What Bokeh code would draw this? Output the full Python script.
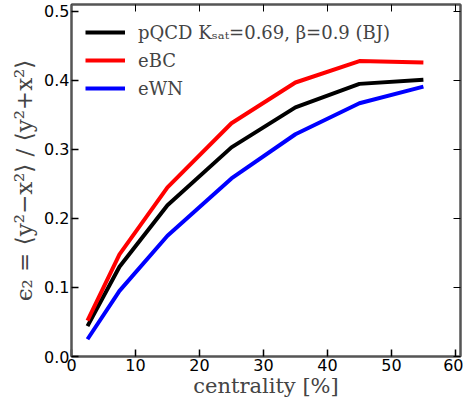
from bokeh.plotting import figure
from bokeh.models import Range1d, LinearAxis, FixedTicker, Legend, LegendItem, NumeralTickFormatter
from bokeh.embed import file_html
from bokeh.resources import INLINE

centrality = [2.5, 7.5, 15, 25, 35, 45, 55]
pqcd = [0.044, 0.130, 0.219, 0.303, 0.361, 0.395, 0.401]
ebc = [0.052, 0.148, 0.245, 0.338, 0.397, 0.428, 0.426]
ewn = [0.025, 0.095, 0.175, 0.258, 0.322, 0.367, 0.391]
x_ticks = [0, 10, 20, 30, 40, 50, 60]
y_ticks = [0.0, 0.1, 0.2, 0.3, 0.4, 0.5]
labels = ["pQCD K\u209b\u2090\u209c=0.69, \u03b2=0.9 (BJ)", "eBC", "eWN"]

p = figure(width=463, height=400, output_backend="svg", toolbar_location=None,
           x_range=Range1d(0, 60.8), y_range=Range1d(0, 0.51),
           min_border_left=71, min_border_right=0, min_border_top=0, min_border_bottom=0)
p.grid.visible = False
p.outline_line_color = "#555555"
p.outline_line_width = 2

serif = "DejaVu Serif"
sans = "DejaVu Sans"

for ax in (p.xaxis[0], p.yaxis[0]):
    ax.major_tick_in = 7
    ax.major_tick_out = 0
    ax.minor_tick_line_color = None
    ax.axis_line_color = "#555555"
    ax.axis_line_width = 2
    ax.major_tick_line_width = 1.5
    ax.major_label_text_font = sans
    ax.major_label_text_font_size = "16px"
    ax.major_label_text_color = "black"
    ax.axis_label_text_font = serif
    ax.axis_label_text_font_style = "normal"
    ax.axis_label_text_font_size = "21px"

p.yaxis[0].axis_label_text_font_size = "23px"
p.xaxis[0].ticker = FixedTicker(ticks=x_ticks)
p.yaxis[0].ticker = FixedTicker(ticks=y_ticks)
p.yaxis[0].formatter = NumeralTickFormatter(format="0.0")
p.xaxis[0].axis_label = "centrality [%]"
p.yaxis[0].axis_label = "\u03f5\u2082 = \u27e8y\u00b2\u2212x\u00b2\u27e9 / \u27e8y\u00b2+x\u00b2\u27e9"
p.xaxis[0].major_label_standoff = 2
p.yaxis[0].major_label_standoff = 2
p.xaxis[0].axis_label_standoff = 0
p.yaxis[0].axis_label_standoff = 4

right = LinearAxis(ticker=FixedTicker(ticks=y_ticks), major_tick_in=7, major_tick_out=0,
                   minor_tick_line_color=None,
                   major_label_overrides={t: " " for t in y_ticks},
                   major_label_text_font_size="1px",
                   axis_line_color="#555555", axis_line_width=2, major_label_standoff=0)
top = LinearAxis(ticker=FixedTicker(ticks=x_ticks), major_tick_in=7, major_tick_out=0,
                 minor_tick_line_color=None,
                 major_label_overrides={t: " " for t in x_ticks},
                 major_label_text_font_size="1px",
                 axis_line_color="#555555", axis_line_width=2, major_label_standoff=0)
p.add_layout(right, "right")
p.add_layout(top, "above")

r1 = p.line(centrality, pqcd, line_color="black", line_width=4)
r2 = p.line(centrality, ebc, line_color="red", line_width=4)
r3 = p.line(centrality, ewn, line_color="blue", line_width=4)

legend = Legend(items=[LegendItem(label=labels[0], renderers=[r1]),
                       LegendItem(label=labels[1], renderers=[r2]),
                       LegendItem(label=labels[2], renderers=[r3])],
                location="top_left", border_line_color=None, background_fill_alpha=0,
                label_text_font=serif, label_text_font_size="18px",
                glyph_width=40, glyph_height=28, label_height=28, label_standoff=13, spacing=0,
                margin=14, padding=3)
p.add_layout(legend)

open("out.html", "w").write(file_html(p, INLINE))
